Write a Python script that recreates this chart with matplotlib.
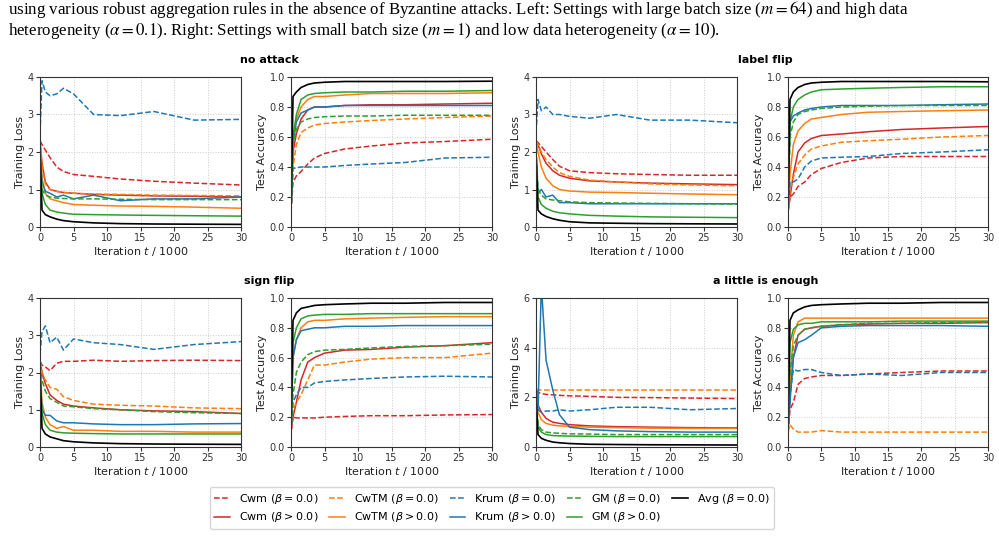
import matplotlib
matplotlib.use('Agg')
import matplotlib.pyplot as plt

plt.rcParams['font.family'] = 'DejaVu Sans'
plt.rcParams['mathtext.fontset'] = 'dejavusans'

# iterations (in thousands) at which values were read
iters = [0, 0.3, 0.8, 1.5, 2.5, 3.5, 5, 8, 12, 17, 23, 30]

methods = ['Cwm', 'CwTM', 'Krum', 'GM']
colors = {'Cwm': '#d62728', 'CwTM': '#ff7f0e', 'Krum': '#1f77b4', 'GM': '#2ca02c', 'Avg': 'black'}

# ---- no attack ----
noatk_loss_b0 = {
    'Cwm':  [2.3, 2.2, 2.05, 1.85, 1.6, 1.48, 1.4, 1.35, 1.28, 1.22, 1.17, 1.12],
    'CwTM': [2.3, 1.6, 1.15, 1.0, 0.95, 0.92, 0.9, 0.88, 0.87, 0.85, 0.84, 0.83],
    'Krum': [2.5, 3.9, 3.6, 3.5, 3.55, 3.7, 3.55, 3.0, 2.97, 3.08, 2.85, 2.87],
    'GM':   [2.1, 1.0, 0.85, 0.8, 0.77, 0.76, 0.75, 0.75, 0.74, 0.73, 0.73, 0.73],
}
noatk_loss_b1 = {
    'Cwm':  [2.3, 1.7, 1.2, 1.0, 0.95, 0.92, 0.9, 0.87, 0.85, 0.83, 0.82, 0.8],
    'CwTM': [2.3, 1.3, 0.9, 0.75, 0.7, 0.65, 0.6, 0.58, 0.56, 0.55, 0.53, 0.5],
    'Krum': [2.0, 1.2, 0.95, 0.9, 0.8, 0.85, 0.75, 0.85, 0.7, 0.75, 0.75, 0.8],
    'GM':   [2.0, 0.9, 0.6, 0.45, 0.4, 0.37, 0.34, 0.33, 0.32, 0.31, 0.3, 0.29],
}
noatk_loss_avg = [2.0, 0.45, 0.33, 0.27, 0.21, 0.17, 0.14, 0.11, 0.09, 0.08, 0.075, 0.07]

noatk_acc_b0 = {
    'Cwm':  [0.1, 0.3, 0.34, 0.37, 0.42, 0.46, 0.49, 0.52, 0.54, 0.56, 0.57, 0.585],
    'CwTM': [0.1, 0.4, 0.55, 0.63, 0.66, 0.68, 0.69, 0.7, 0.71, 0.72, 0.73, 0.74],
    'Krum': [0.1, 0.39, 0.395, 0.4, 0.4, 0.4, 0.4, 0.41, 0.42, 0.43, 0.46, 0.465],
    'GM':   [0.1, 0.55, 0.65, 0.7, 0.72, 0.73, 0.735, 0.74, 0.74, 0.745, 0.745, 0.745],
}
noatk_acc_b1 = {
    'Cwm':  [0.1, 0.5, 0.62, 0.72, 0.78, 0.8, 0.8, 0.81, 0.815, 0.815, 0.82, 0.825],
    'CwTM': [0.1, 0.6, 0.72, 0.8, 0.85, 0.87, 0.87, 0.88, 0.89, 0.89, 0.89, 0.895],
    'Krum': [0.1, 0.55, 0.7, 0.76, 0.78, 0.8, 0.8, 0.81, 0.81, 0.81, 0.81, 0.81],
    'GM':   [0.1, 0.6, 0.75, 0.85, 0.88, 0.89, 0.895, 0.9, 0.9, 0.905, 0.905, 0.91],
}
noatk_acc_avg = [0.1, 0.87, 0.9, 0.93, 0.95, 0.96, 0.965, 0.97, 0.97, 0.97, 0.97, 0.972]

# ---- label flip ----
lflip_loss_b0 = {
    'Cwm':  [2.3, 2.25, 2.15, 2.0, 1.8, 1.62, 1.5, 1.45, 1.42, 1.4, 1.38, 1.38],
    'CwTM': [2.3, 2.2, 2.0, 1.8, 1.6, 1.45, 1.35, 1.25, 1.2, 1.15, 1.12, 1.1],
    'Krum': [2.5, 3.4, 3.1, 3.2, 3.0, 3.0, 2.95, 2.9, 3.0, 2.85, 2.85, 2.78],
    'GM':   [2.1, 1.0, 0.85, 0.75, 0.72, 0.7, 0.67, 0.65, 0.64, 0.63, 0.62, 0.61],
}
lflip_loss_b1 = {
    'Cwm':  [2.3, 2.2, 1.95, 1.7, 1.5, 1.38, 1.3, 1.23, 1.2, 1.17, 1.15, 1.13],
    'CwTM': [2.3, 2.0, 1.6, 1.3, 1.1, 1.0, 0.96, 0.93, 0.92, 0.9, 0.88, 0.86],
    'Krum': [2.0, 0.9, 1.0, 0.8, 0.85, 0.65, 0.65, 0.62, 0.62, 0.62, 0.62, 0.62],
    'GM':   [2.0, 0.8, 0.6, 0.5, 0.42, 0.38, 0.35, 0.31, 0.29, 0.27, 0.26, 0.25],
}
lflip_loss_avg = [2.0, 0.45, 0.35, 0.28, 0.22, 0.18, 0.14, 0.11, 0.1, 0.09, 0.085, 0.08]

lflip_acc_b0 = {
    'Cwm':  [0.1, 0.2, 0.22, 0.27, 0.3, 0.35, 0.39, 0.43, 0.46, 0.47, 0.47, 0.47],
    'CwTM': [0.1, 0.25, 0.33, 0.42, 0.48, 0.52, 0.54, 0.565, 0.575, 0.585, 0.6, 0.61],
    'Krum': [0.1, 0.3, 0.3, 0.32, 0.4, 0.44, 0.46, 0.465, 0.47, 0.49, 0.5, 0.515],
    'GM':   [0.1, 0.6, 0.7, 0.75, 0.77, 0.78, 0.79, 0.8, 0.805, 0.81, 0.81, 0.81],
}
lflip_acc_b1 = {
    'Cwm':  [0.1, 0.2, 0.35, 0.5, 0.56, 0.59, 0.61, 0.62, 0.635, 0.65, 0.66, 0.67],
    'CwTM': [0.1, 0.35, 0.55, 0.64, 0.69, 0.72, 0.73, 0.75, 0.765, 0.77, 0.775, 0.78],
    'Krum': [0.1, 0.7, 0.74, 0.76, 0.78, 0.79, 0.8, 0.81, 0.81, 0.81, 0.815, 0.82],
    'GM':   [0.1, 0.7, 0.8, 0.85, 0.88, 0.9, 0.915, 0.92, 0.925, 0.93, 0.935, 0.935],
}
lflip_acc_avg = [0.1, 0.85, 0.9, 0.93, 0.95, 0.96, 0.965, 0.97, 0.97, 0.97, 0.97, 0.968]

# ---- sign flip ----
sflip_loss_b0 = {
    'Cwm':  [2.3, 2.2, 2.15, 2.05, 2.25, 2.3, 2.3, 2.33, 2.3, 2.32, 2.33, 2.32],
    'CwTM': [2.3, 2.0, 1.8, 1.6, 1.55, 1.35, 1.25, 1.15, 1.12, 1.1, 1.05, 1.03],
    'Krum': [2.5, 3.1, 3.25, 2.8, 2.95, 2.6, 2.9, 2.8, 2.75, 2.62, 2.75, 2.83],
    'GM':   [2.2, 1.8, 1.5, 1.3, 1.2, 1.1, 1.08, 1.03, 1.0, 0.95, 0.92, 0.9],
}
sflip_loss_b1 = {
    'Cwm':  [2.3, 2.0, 1.7, 1.4, 1.25, 1.15, 1.1, 1.05, 1.0, 0.97, 0.95, 0.9],
    'CwTM': [2.3, 1.2, 0.8, 0.6, 0.5, 0.55, 0.45, 0.45, 0.42, 0.42, 0.4, 0.4],
    'Krum': [2.0, 1.0, 0.85, 0.85, 0.7, 0.65, 0.65, 0.62, 0.6, 0.6, 0.62, 0.63],
    'GM':   [2.0, 0.9, 0.6, 0.45, 0.4, 0.38, 0.37, 0.36, 0.35, 0.35, 0.35, 0.35],
}
sflip_loss_avg = [2.0, 0.5, 0.35, 0.27, 0.22, 0.17, 0.14, 0.11, 0.09, 0.08, 0.075, 0.07]

sflip_acc_b0 = {
    'Cwm':  [0.1, 0.2, 0.195, 0.195, 0.195, 0.195, 0.2, 0.205, 0.21, 0.21, 0.215, 0.218],
    'CwTM': [0.1, 0.25, 0.3, 0.35, 0.45, 0.55, 0.55, 0.57, 0.59, 0.6, 0.6, 0.63],
    'Krum': [0.1, 0.3, 0.35, 0.4, 0.4, 0.43, 0.44, 0.45, 0.46, 0.47, 0.475, 0.47],
    'GM':   [0.1, 0.35, 0.5, 0.57, 0.62, 0.64, 0.65, 0.655, 0.665, 0.675, 0.68, 0.69],
}
sflip_acc_b1 = {
    'Cwm':  [0.1, 0.2, 0.3, 0.45, 0.57, 0.6, 0.63, 0.65, 0.655, 0.67, 0.68, 0.7],
    'CwTM': [0.1, 0.6, 0.72, 0.8, 0.84, 0.85, 0.85, 0.86, 0.865, 0.87, 0.875, 0.875],
    'Krum': [0.1, 0.6, 0.72, 0.78, 0.79, 0.8, 0.8, 0.81, 0.81, 0.815, 0.815, 0.815],
    'GM':   [0.1, 0.7, 0.8, 0.86, 0.88, 0.885, 0.89, 0.89, 0.895, 0.895, 0.895, 0.895],
}
sflip_acc_avg = [0.1, 0.85, 0.9, 0.93, 0.94, 0.95, 0.955, 0.96, 0.965, 0.965, 0.97, 0.97]

# ---- a little is enough ----
alie_loss_b0 = {
    'Cwm':  [2.3, 2.2, 2.15, 2.12, 2.1, 2.08, 2.06, 2.04, 2.0, 1.99, 1.97, 1.95],
    'CwTM': [2.3, 2.3, 2.3, 2.3, 2.3, 2.3, 2.3, 2.3, 2.3, 2.3, 2.3, 2.3],
    'Krum': [2.5, 1.5, 1.4, 1.45, 1.45, 1.5, 1.45, 1.5, 1.6, 1.6, 1.5, 1.55],
    'GM':   [2.1, 0.9, 0.7, 0.6, 0.57, 0.55, 0.53, 0.52, 0.5, 0.5, 0.5, 0.5],
}
alie_loss_b1 = {
    'Cwm':  [2.3, 1.7, 1.4, 1.15, 1.0, 0.95, 0.9, 0.85, 0.82, 0.8, 0.78, 0.77],
    'CwTM': [2.3, 1.4, 1.1, 0.95, 0.88, 0.85, 0.83, 0.8, 0.78, 0.76, 0.75, 0.75],
    'Krum': [2.5, 1.5, 6.5, 3.5, 2.3, 1.3, 0.8, 0.7, 0.65, 0.62, 0.6, 0.6],
    'GM':   [2.0, 0.8, 0.6, 0.5, 0.46, 0.45, 0.44, 0.43, 0.42, 0.42, 0.42, 0.42],
}
alie_loss_avg = [2.0, 0.5, 0.35, 0.27, 0.2, 0.17, 0.14, 0.11, 0.1, 0.09, 0.085, 0.08]

alie_acc_b0 = {
    'Cwm':  [0.1, 0.25, 0.3, 0.42, 0.46, 0.47, 0.48, 0.48, 0.49, 0.5, 0.51, 0.51],
    'CwTM': [0.1, 0.15, 0.12, 0.1, 0.1, 0.1, 0.11, 0.1, 0.1, 0.1, 0.1, 0.1],
    'Krum': [0.1, 0.35, 0.52, 0.51, 0.52, 0.52, 0.5, 0.48, 0.49, 0.48, 0.5, 0.5],
    'GM':   [0.1, 0.5, 0.68, 0.75, 0.79, 0.8, 0.81, 0.82, 0.83, 0.83, 0.835, 0.84],
}
alie_acc_b1 = {
    'Cwm':  [0.1, 0.35, 0.6, 0.75, 0.79, 0.8, 0.81, 0.82, 0.825, 0.83, 0.83, 0.835],
    'CwTM': [0.1, 0.45, 0.75, 0.84, 0.865, 0.865, 0.865, 0.865, 0.865, 0.865, 0.865, 0.865],
    'Krum': [0.1, 0.3, 0.6, 0.7, 0.72, 0.75, 0.8, 0.81, 0.815, 0.815, 0.815, 0.81],
    'GM':   [0.1, 0.7, 0.79, 0.82, 0.83, 0.83, 0.84, 0.84, 0.84, 0.845, 0.845, 0.845],
}
alie_acc_avg = [0.1, 0.85, 0.9, 0.92, 0.94, 0.95, 0.955, 0.96, 0.965, 0.965, 0.97, 0.97]

W, H = 999, 539
fig = plt.figure(figsize=(W / 100, H / 100), dpi=100)


def box(x0, x1, top, bottom):
    return [x0 / W, 1 - bottom / H, (x1 - x0) / W, (bottom - top) / H]


def draw(ax, b0, b1, avg, kind):
    for m in methods:
        ax.plot(iters, b0[m], '--', color=colors[m], lw=1.1, label=m + r' ($\beta = 0.0$)')
        ax.plot(iters, b1[m], '-', color=colors[m], lw=1.1, label=m + r' ($\beta > 0.0$)')
    ax.plot(iters, avg, '-', color=colors['Avg'], lw=1.2, label=r'Avg ($\beta = 0.0$)')
    ax.set_xlim(0, 30)
    ax.set_xticks([0, 5, 10, 15, 20, 25, 30])
    ax.set_xlabel('Iteration $t$ / 1000', fontsize=8, color='#222222', labelpad=1)
    if kind == 'acc':
        ax.set_ylim(0, 1)
        ax.set_yticks([0, 0.2, 0.4, 0.6, 0.8, 1.0])
        ax.set_ylabel('Test Accuracy', fontsize=8, color='#222222', labelpad=2)
    else:
        ax.set_ylabel('Training Loss', fontsize=8, color='#222222', labelpad=2)
    ax.tick_params(labelsize=7, colors='#333333', length=3, pad=1.5)
    ax.grid(True, linestyle=':', color='#cccccc', lw=0.7)
    for s in ax.spines.values():
        s.set_color('#333333')
        s.set_linewidth(0.8)


rows = [(77, 227), (298, 447)]
cols = [(40, 241), (291, 492), (536, 737), (788, 988)]
panels = [
    (noatk_loss_b0, noatk_loss_b1, noatk_loss_avg, noatk_acc_b0, noatk_acc_b1, noatk_acc_avg, 'no attack', 4),
    (lflip_loss_b0, lflip_loss_b1, lflip_loss_avg, lflip_acc_b0, lflip_acc_b1, lflip_acc_avg, 'label flip', 4),
    (sflip_loss_b0, sflip_loss_b1, sflip_loss_avg, sflip_acc_b0, sflip_acc_b1, sflip_acc_avg, 'sign flip', 4),
    (alie_loss_b0, alie_loss_b1, alie_loss_avg, alie_acc_b0, alie_acc_b1, alie_acc_avg, 'a little is enough', 6),
]

for i, p in enumerate(panels):
    r = i // 2
    c = (i % 2) * 2
    top, bottom = rows[r]
    ax1 = fig.add_axes(box(cols[c][0], cols[c][1], top, bottom))
    draw(ax1, p[0], p[1], p[2], 'loss')
    ax1.set_ylim(0, p[7])
    ax1.set_yticks(range(0, p[7] + 1, 2 if p[7] == 6 else 1))
    ax2 = fig.add_axes(box(cols[c + 1][0], cols[c + 1][1], top, bottom))
    draw(ax2, p[3], p[4], p[5], 'acc')
    xc = (cols[c][1] + cols[c + 1][0]) / 2 / W
    fig.text(xc + 0.003, 1 - (top - 17) / H, p[6], ha='center', va='center',
             fontsize=8, fontweight='bold')

handles, labels = ax2.get_legend_handles_labels()
fig.legend(handles, labels, loc='center', bbox_to_anchor=(492 / W, 1 - 508 / H),
           ncol=5, fontsize=8, frameon=True, edgecolor='#cccccc', handlelength=1.4,
           columnspacing=1.0, handletextpad=0.8, borderpad=0.4, labelspacing=0.45)

cap = dict(family=['Liberation Serif'], fontsize=12.2, color='black', va='center', ha='left',
           math_fontfamily='stix')
fig.text(8 / W, 1 - 10 / H,
         'using various robust aggregation rules in the absence of Byzantine attacks. Left: '
         'Settings with large batch size ($m = 64$) and high data', **cap)
fig.text(8 / W, 1 - 31 / H,
         r'heterogeneity ($\alpha = 0.1$). Right: Settings with small batch size ($m = 1$) '
         r'and low data heterogeneity ($\alpha = 10$).', **cap)

fig.savefig('out.png', dpi=100)
